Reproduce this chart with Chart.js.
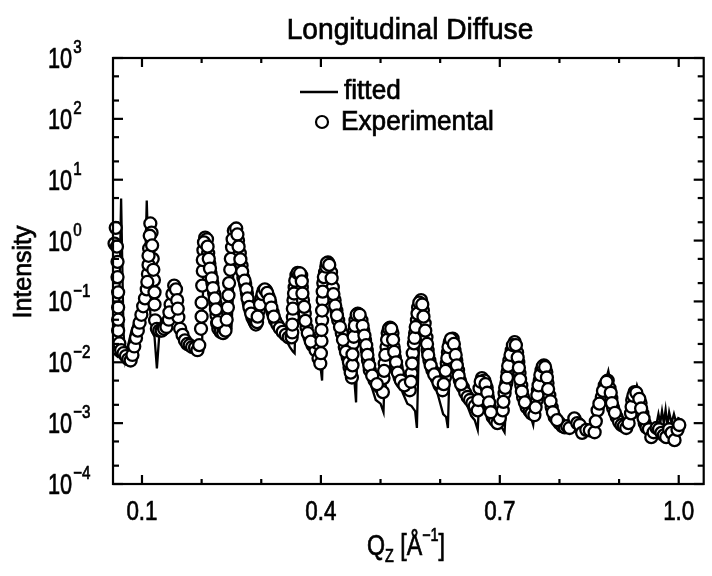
<!DOCTYPE html>
<html><head><meta charset="utf-8">
<script src="https://cdn.jsdelivr.net/npm/chart.js@4.4.0/dist/chart.umd.min.js"></script>
<style>html,body{margin:0;padding:0;background:#fff;}#wrap{width:712px;height:576px;position:relative;}</style>
</head><body><div id="wrap"><canvas id="c"></canvas></div>
<script>
const FONT = "'Liberation Sans','Arial',sans-serif";
const chartTitle = 'Longitudinal Diffuse';
const yAxisTitle = 'Intensity';
const seriesNames = ['fitted', 'Experimental'];
const xTickValues = [0.1, 0.2, 0.3, 0.4, 0.5, 0.6, 0.7, 0.8, 0.9, 1.0];
const xTickLabels = ['0.1', '', '', '0.4', '', '', '0.7', '', '', '1.0'];
const yDecades = [-4, -3, -2, -1, 0, 1, 2, 3];
const yMinorFactors = [2, 5];

const fittedQ = [0.052,0.058,0.061,0.063,0.065,0.067,0.069,0.072,0.076,0.082,0.088,0.094,0.099,0.103,0.106,0.108,0.111,0.114,0.118,0.121,0.125,0.129,0.134,0.140,0.146,0.150,0.154,0.158,0.162,0.168,0.175,0.185,0.193,0.199,0.201,0.203,0.206,0.209,0.212,0.216,0.220,0.224,0.230,0.238,0.250,0.252,0.254,0.257,0.260,0.264,0.270,0.276,0.282,0.290,0.296,0.300,0.305,0.310,0.316,0.322,0.330,0.340,0.348,0.353,0.356,0.358,0.360,0.363,0.367,0.372,0.378,0.385,0.392,0.398,0.402,0.405,0.408,0.412,0.416,0.421,0.427,0.434,0.442,0.450,0.455,0.459,0.461,0.463,0.467,0.472,0.478,0.485,0.492,0.500,0.505,0.508,0.512,0.515,0.519,0.524,0.530,0.537,0.545,0.552,0.558,0.561,0.564,0.567,0.569,0.573,0.578,0.584,0.591,0.598,0.605,0.610,0.613,0.616,0.619,0.621,0.625,0.630,0.637,0.645,0.652,0.658,0.663,0.666,0.669,0.673,0.679,0.686,0.695,0.702,0.708,0.712,0.718,0.723,0.728,0.733,0.740,0.748,0.752,0.756,0.762,0.768,0.773,0.778,0.784,0.792,0.800,0.810,0.818,0.823,0.826,0.830,0.838,0.848,0.858,0.864,0.872,0.879,0.882,0.886,0.891,0.898,0.906,0.914,0.920,0.926,0.930,0.934,0.940,0.946,0.952,0.958,0.962,0.966,0.969,0.972,0.975,0.978,0.981,0.984,0.988,0.992,0.996,1.000];
const fittedI = [1.41e-2,1.26e-2,3.16e-2,0.398,4.90,0.398,3.16e-2,1.12e-2,1.78e-2,3.16e-2,4.79e-2,7.08e-2,0.105,0.178,0.631,4.57,0.398,6.31e-2,3.02e-2,2.63e-2,7.94e-3,2.82e-2,3.31e-2,3.80e-2,5.62e-2,0.112,0.178,0.126,5.01e-2,2.82e-2,2.09e-2,1.78e-2,1.66e-2,1.74e-2,2.40e-2,0.398,1.20,1.12,0.501,0.200,0.100,5.01e-2,3.55e-2,3.16e-2,3.55e-2,0.100,1.00,1.58,1.12,0.501,0.200,0.112,6.31e-2,3.98e-2,5.01e-2,0.112,0.158,0.126,7.94e-2,5.01e-2,3.55e-2,2.51e-2,1.78e-2,1.51e-2,1.41e-2,0.100,0.251,0.302,0.251,0.100,3.98e-2,2.24e-2,1.41e-2,1.12e-2,5.01e-3,6.31e-2,0.251,0.457,0.316,0.126,5.62e-2,2.51e-2,1.26e-2,8.91e-3,7.08e-3,2.19e-3,3.16e-2,6.61e-2,5.01e-2,2.24e-2,1.00e-2,3.98e-3,2.40e-3,2.09e-3,1.51e-3,1.58e-2,3.98e-2,4.37e-2,3.16e-2,1.41e-2,6.31e-3,3.16e-3,2.09e-3,1.91e-3,1.58e-3,8.32e-4,1.58e-2,7.94e-2,0.100,6.31e-2,2.51e-2,1.00e-2,4.47e-3,2.51e-3,1.41e-3,1.26e-3,8.32e-4,1.00e-2,2.24e-2,2.51e-2,1.58e-2,7.08e-3,3.55e-3,2.00e-3,1.32e-3,1.12e-3,7.76e-4,3.16e-3,5.62e-3,4.47e-3,2.51e-3,1.41e-3,1.00e-3,8.91e-4,7.08e-4,3.98e-3,1.41e-2,2.40e-2,1.78e-2,7.94e-3,3.16e-3,1.66e-3,1.26e-3,9.33e-4,3.16e-3,7.08e-3,1.00e-2,7.08e-3,3.16e-3,1.41e-3,1.00e-3,8.91e-4,8.32e-4,1.12e-3,1.26e-3,1.00e-3,7.59e-4,7.08e-4,6.31e-4,1.26e-3,2.82e-3,5.62e-3,7.24e-3,4.47e-3,2.00e-3,1.12e-3,7.94e-4,7.08e-4,1.26e-3,2.82e-3,4.17e-3,3.16e-3,1.41e-3,7.94e-4,6.31e-4,7.08e-4,8.91e-4,1.41e-3,1.00e-3,1.58e-3,1.00e-3,1.66e-3,8.91e-4,1.51e-3,1.00e-3,1.41e-3,1.00e-3,1.26e-3];

const expQ = [0.054,0.056,0.058,0.060,0.062,0.065,0.069,0.073,0.077,0.081,0.084,0.087,0.090,0.093,0.096,0.099,0.102,0.105,0.108,0.110,0.112,0.114,0.116,0.118,0.120,0.122,0.125,
0.129,0.133,0.137,0.141,0.145,0.148,0.151,0.154,0.157,0.159,0.161,0.164,0.168,0.172,0.176,0.180,0.184,0.189,0.193,0.196,0.199,0.201,0.203,0.206,0.209,0.211,0.213,0.215,0.218,0.221,0.223,0.225,0.226,0.228,0.230,0.232,0.236,0.238,0.240,0.244,0.248,0.251,0.254,0.258,0.261,0.264,0.267,0.270,0.273,0.276,0.279,0.282,0.285,0.287,0.289,0.291,0.293,0.296,0.300,0.304,0.308,0.312,0.315,0.319,0.323,0.327,0.331,0.336,0.341,0.346,
0.351,0.352,0.353,0.354,0.356,0.359,0.363,0.367,0.368,0.370,0.373,0.376,0.381,0.386,0.391,0.395,0.396,0.399,0.402,0.403,0.404,0.407,0.412,0.417,0.420,0.423,0.426,0.429,0.435,0.440,0.445,0.448,0.452,0.454,0.456,0.458,0.462,0.468,0.471,0.474,0.477,0.479,0.482,0.490,0.499,0.504,0.505,0.507,0.510,0.512,0.516,0.520,0.522,0.524,0.527,0.532,0.537,0.544,0.549,0.552,0.554,0.556,0.558,0.561,0.563,0.568,0.571,0.574,0.577,0.579,0.582,0.587,0.594,0.599,0.604,0.608,0.611,0.613,0.616,0.621,0.624,0.627,0.630,0.633,0.638,0.642,0.646,0.650,0.654,
0.658,0.663,0.666,0.670,0.674,0.678,0.680,0.683,0.688,0.692,0.696,0.700,0.705,0.708,0.711,0.713,0.716,0.720,0.725,0.729,0.731,0.733,0.736,0.739,0.745,0.750,0.753,0.758,0.762,0.764,0.767,0.770,0.774,0.778,0.780,0.783,0.787,0.792,0.800,0.805,0.809,0.813,0.817,0.825,0.830,0.834,0.838,0.845,0.851,0.859,0.864,0.871,0.876,0.881,0.884,0.887,0.890,0.896,0.900,0.904,0.908,0.912,0.916,0.920,0.922,0.926,0.931,0.936,0.939,0.943,0.946,0.950,0.954,0.958,0.963,0.967,0.971,0.975,0.979,0.984,0.988,0.993,0.998,1.001];
const expI = [0.891,1.62,0.794,3.31e-2,2.04e-2,1.58e-2,1.41e-2,1.26e-2,1.12e-2,1.07e-2,1.32e-2,1.82e-2,2.51e-2,3.31e-2,4.47e-2,6.03e-2,8.32e-2,0.112,0.158,0.282,0.741,1.91,1.35,0.501,0.224,4.90e-2,3.55e-2,
3.31e-2,3.31e-2,3.55e-2,3.80e-2,5.01e-2,8.91e-2,0.132,0.182,0.158,0.105,5.50e-2,3.55e-2,2.82e-2,2.29e-2,2.00e-2,1.91e-2,1.78e-2,1.74e-2,1.58e-2,1.91e-2,3.55e-2,0.182,0.692,1.12,1.05,0.617,0.417,0.288,0.200,0.135,9.33e-2,5.89e-2,4.37e-2,3.55e-2,3.98e-2,3.16e-2,3.02e-2,3.55e-2,3.31e-2,7.94e-2,0.331,0.776,1.45,1.58,1.00,0.617,0.389,0.245,0.191,0.135,9.33e-2,7.08e-2,5.50e-2,5.01e-2,4.57e-2,4.17e-2,4.57e-2,7.08e-2,0.112,0.151,0.151,0.120,9.55e-2,6.61e-2,4.90e-2,4.17e-2,3.63e-2,3.16e-2,2.82e-2,2.57e-2,
2.57e-2,3.09e-2,5.50e-2,0.105,0.170,0.269,0.288,0.269,0.170,0.105,6.31e-2,3.72e-2,2.57e-2,1.91e-2,1.58e-2,2.04e-2,1.17e-2,9.55e-3,4.90e-2,0.105,0.200,0.302,0.437,0.302,0.170,0.105,7.08e-2,4.90e-2,3.02e-2,1.78e-2,1.20e-2,8.32e-3,5.62e-3,2.04e-2,3.31e-2,4.90e-2,6.31e-2,4.90e-2,3.31e-2,2.29e-2,1.58e-2,1.07e-2,7.41e-3,5.01e-3,3.89e-3,3.24e-3,5.50e-3,9.55e-3,1.78e-2,3.02e-2,3.72e-2,3.02e-2,1.78e-2,1.20e-2,8.32e-3,5.62e-3,4.57e-3,3.89e-3,3.47e-3,6.61e-3,1.41e-2,2.04e-2,3.02e-2,4.90e-2,7.94e-2,0.105,7.08e-2,4.37e-2,2.57e-2,1.58e-2,1.07e-2,7.41e-3,5.50e-3,4.17e-3,3.47e-3,5.62e-3,9.55e-3,1.45e-2,2.14e-2,2.45e-2,1.58e-2,1.07e-2,7.41e-3,5.01e-3,3.89e-3,3.16e-3,2.69e-3,2.40e-3,2.14e-3,
1.91e-3,1.62e-3,3.72e-3,5.50e-3,5.01e-3,3.80e-3,2.69e-3,1.82e-3,1.26e-3,1.12e-3,1.00e-3,1.20e-3,1.62e-3,3.09e-3,4.57e-3,6.92e-3,1.07e-2,1.58e-2,2.14e-2,1.45e-2,1.00e-2,6.61e-3,4.17e-3,2.69e-3,1.82e-3,1.58e-3,1.45e-3,1.35e-3,2.40e-3,3.47e-3,5.01e-3,7.41e-3,8.91e-3,6.92e-3,4.57e-3,2.88e-3,1.82e-3,1.26e-3,1.00e-3,8.91e-4,8.51e-4,8.91e-4,8.32e-4,1.20e-3,1.00e-3,9.33e-4,6.92e-4,7.76e-4,7.59e-4,7.08e-4,1.62e-3,2.69e-3,4.17e-3,5.01e-3,3.72e-3,2.57e-3,1.78e-3,1.26e-3,1.05e-3,9.33e-4,8.91e-4,8.32e-4,1.00e-3,1.45e-3,2.40e-3,3.24e-3,2.69e-3,2.14e-3,1.45e-3,1.00e-3,8.51e-4,7.94e-4,5.89e-4,7.08e-4,8.32e-4,7.94e-4,6.92e-4,6.31e-4,5.89e-4,7.94e-4,6.92e-4,5.25e-4,7.76e-4,9.33e-4];

const expFlankQ = [0.059,0.059,0.060,0.060,0.060,0.109,0.111,0.111,0.113,0.117,0.119,0.121,0.121,0.146,0.160,
0.200,0.200,0.202,0.202,0.204,0.210,0.212,0.214,0.217,0.219,0.222,0.224,0.227,
0.242,0.245,0.246,0.249,0.252,0.260,0.262,0.265,0.268,0.272,0.275,0.277,0.280,0.283,
0.294,0.298,0.302,0.306,0.310,0.314,0.317,0.321,
0.352,0.353,0.355,0.357,0.361,0.365,0.368,0.369,0.372,0.374,0.378,0.383,
0.400,0.401,0.401,0.402,0.403,0.405,0.409,0.410,0.414,0.418,0.421,0.424,0.427,0.432,0.437,0.442,0.447,0.450,
0.453,0.453,0.455,0.457,0.460,0.465,0.470,0.473,0.476,0.478,0.481,0.486,0.494,
0.506,0.508,0.511,0.514,0.518,0.521,0.523,0.526,0.529,0.534,0.540,
0.551,0.553,0.557,0.559,0.562,0.565,0.570,0.572,0.575,0.578,0.580,0.584,0.590,0.597,
0.606,0.609,0.612,0.614,0.618,0.623,0.626,0.628,0.631,0.635,
0.664,0.668,0.676,0.679,0.682,0.685,
0.706,0.709,0.712,0.714,0.718,0.722,0.727,0.730,0.732,0.734,0.737,0.742,
0.760,0.763,0.765,0.768,0.772,0.776,0.779,0.781,0.785,0.789,0.796,
0.861,0.867,0.873,0.879,0.886,0.888,0.893,
0.921,0.924,0.929,0.934,0.937,0.941];
const expFlankI = [0.447,0.251,0.141,7.94e-2,5.01e-2,0.209,0.398,0.562,1.20,0.832,0.331,0.141,8.91e-2,6.61e-2,7.59e-2,
5.62e-2,9.55e-2,0.316,0.479,0.933,0.794,0.501,0.347,0.240,0.166,0.112,7.41e-2,4.57e-2,
5.01e-2,0.126,0.200,0.501,1.05,1.26,0.794,0.490,0.309,0.219,0.158,0.112,8.13e-2,6.31e-2,
5.62e-2,8.91e-2,0.132,0.158,0.138,0.107,7.94e-2,5.62e-2,
4.17e-2,7.59e-2,0.135,0.219,0.295,0.288,0.214,0.135,8.13e-2,4.79e-2,3.02e-2,2.19e-2,
1.41e-2,2.24e-2,3.39e-2,7.08e-2,0.145,0.251,0.372,0.427,0.398,0.240,0.132,8.51e-2,5.89e-2,3.80e-2,2.34e-2,1.48e-2,1.00e-2,6.76e-3,
8.91e-3,1.35e-2,2.63e-2,3.98e-2,6.03e-2,6.03e-2,3.98e-2,2.75e-2,1.91e-2,1.32e-2,8.91e-3,6.03e-3,4.37e-3,
7.24e-3,1.32e-2,2.34e-2,3.55e-2,3.55e-2,2.34e-2,1.48e-2,1.00e-2,6.76e-3,5.01e-3,4.17e-3,
4.79e-3,9.55e-3,2.51e-2,3.80e-2,6.31e-2,9.55e-2,8.91e-2,5.62e-2,3.31e-2,2.00e-2,1.32e-2,8.91e-3,6.31e-3,4.68e-3,
4.37e-3,7.24e-3,1.17e-2,1.78e-2,2.40e-2,2.00e-2,1.32e-2,8.91e-3,6.03e-3,4.37e-3,
2.40e-3,4.79e-3,4.37e-3,3.16e-3,2.19e-3,1.51e-3,
2.24e-3,3.80e-3,5.62e-3,8.71e-3,1.32e-2,1.91e-2,1.91e-2,1.20e-2,8.13e-3,5.25e-3,3.31e-3,2.19e-3,
1.82e-3,2.88e-3,4.17e-3,6.17e-3,8.51e-3,8.32e-3,5.62e-3,3.63e-3,2.29e-3,1.51e-3,1.12e-3,
1.07e-3,2.09e-3,3.39e-3,4.79e-3,3.16e-3,2.14e-3,1.48e-3,
1.86e-3,2.82e-3,3.16e-3,2.51e-3,1.74e-3,1.20e-3];

const fittedData = fittedQ.map((q, i) => ({x: q, y: fittedI[i]}));
const expData = expQ.map((q, i) => ({x: q, y: expI[i]}))
  .concat(expFlankQ.map((q, i) => ({x: q, y: expFlankI[i]})));

function f(size){ return size + 'px ' + FONT; }

const decor = {
  id: 'decor',
  afterDraw(chart) {
    const ctx = chart.ctx, a = chart.chartArea, xs = chart.scales.x, ys = chart.scales.y;
    const txt = (s, x, y, size, align, sx) => {
      ctx.save(); ctx.translate(x, y); ctx.scale(sx, 1);
      ctx.font = f(size); ctx.textAlign = align; ctx.textBaseline = 'middle';
      ctx.fillStyle = '#000'; ctx.strokeStyle = '#000'; ctx.lineWidth = 0.7;
      ctx.fillText(s, 0, 0); ctx.strokeText(s, 0, 0); ctx.restore();
    };
    const tw = (s, size, sx) => { ctx.font = f(size); return ctx.measureText(s).width * sx; };
    ctx.save();
    ctx.strokeStyle = '#000'; ctx.fillStyle = '#000'; ctx.lineWidth = 2.2;
    ctx.strokeRect(a.left, a.top, a.right - a.left, a.bottom - a.top);
    const seg = (x1, y1, x2, y2) => { ctx.beginPath(); ctx.moveTo(x1, y1); ctx.lineTo(x2, y2); ctx.stroke(); };
    xTickValues.forEach((v, i) => {
      const px = xs.getPixelForValue(v);
      const L = xTickLabels[i] ? 9 : 5;
      seg(px, a.bottom, px, a.bottom - L);
      seg(px, a.top, px, a.top + L);
    });
    yDecades.forEach(d => {
      const py = ys.getPixelForValue(Math.pow(10, d));
      seg(a.left, py, a.left + 10, py); seg(a.right, py, a.right - 10, py);
      if (d < 3) yMinorFactors.forEach(m => {
        const pm = ys.getPixelForValue(m * Math.pow(10, d));
        seg(a.left, pm, a.left + 6, pm); seg(a.right, pm, a.right - 6, pm);
      });
    });
    xTickValues.forEach((v, i) => {
      if (xTickLabels[i]) txt(xTickLabels[i], xs.getPixelForValue(v), a.bottom + 28, 28, 'center', 0.8);
    });
    yDecades.forEach(d => {
      const py = ys.getPixelForValue(Math.pow(10, d));
      const w = tw('10', 29, 0.75);
      txt('10', 48, py + 2, 29, 'left', 0.75);
      txt(d < 0 ? '\u2212' + (-d) : String(d), 48 + w + 1, py - 10, 19, 'left', 0.8);
    });
    // title
    txt(chartTitle, 410, 31, 29, 'center', 0.97);
    // y title
    ctx.save(); ctx.translate(24, 272); ctx.rotate(-Math.PI / 2);
    txt(yAxisTitle, 0, 0, 25, 'center', 1);
    ctx.restore();
    // x title Q_Z [Å^-1]
    const parts = [['Q', 29, 0], ['Z', 18, 10], [' [\u00C5', 29, 0], ['\u22121', 18, -11], [']', 29, 0]];
    let tot = 0; parts.forEach(p => { tot += tw(p[0], p[1], 0.8); });
    let cx = 406 - tot / 2;
    parts.forEach(p => { txt(p[0], cx, 547 + p[2], p[1], 'left', 0.8); cx += tw(p[0], p[1], 0.8); });
    // legend
    ctx.lineWidth = 2.5; seg(300, 92, 338, 92);
    txt(seriesNames[0], 344, 92, 27, 'left', 0.97);
    ctx.lineWidth = 2.2; ctx.beginPath(); ctx.arc(322, 122, 6, 0, 2 * Math.PI);
    ctx.fillStyle = '#fff'; ctx.fill(); ctx.stroke();
    txt(seriesNames[1], 341, 123, 27, 'left', 0.97);
    ctx.restore();
  }
};

new Chart(document.getElementById('c'), {
  type: 'scatter',
  data: {
    datasets: [
      { label: seriesNames[1], data: expData, showLine: false, pointRadius: 6, pointHoverRadius: 6,
        pointBorderWidth: 2.3, borderColor: '#000', backgroundColor: '#fff', pointBackgroundColor: '#fff', pointBorderColor: '#000', order: 0, clip: false },
      { label: seriesNames[0], data: fittedData, showLine: true, pointRadius: 0, borderColor: '#000',
        borderWidth: 2.3, backgroundColor: '#000', tension: 0, order: 1, clip: false }
    ]
  },
  options: {
    responsive: true, maintainAspectRatio: false, animation: false,
    devicePixelRatio: 1,
    layout: { padding: { top: 58, right: 7, left: 0, bottom: 0 } },
    plugins: { legend: { display: false }, tooltip: { enabled: false }, title: { display: false } },
    scales: {
      x: {
        type: 'linear', min: 0.0514, max: 1.0419,
        afterBuildTicks: s => { s.ticks = xTickValues.map(v => ({ value: v })); },
        afterFit: s => { s.height = 92; },
        grid: { display: false, drawTicks: false },
        border: { display: false },
        ticks: { display: false }
      },
      y: {
        type: 'logarithmic', min: 1e-4, max: 1e3,
        afterFit: s => { s.width = 113; },
        grid: { display: false, drawTicks: false },
        border: { display: false },
        ticks: { display: false }
      }
    }
  },
  plugins: [decor]
});
</script></body></html>
